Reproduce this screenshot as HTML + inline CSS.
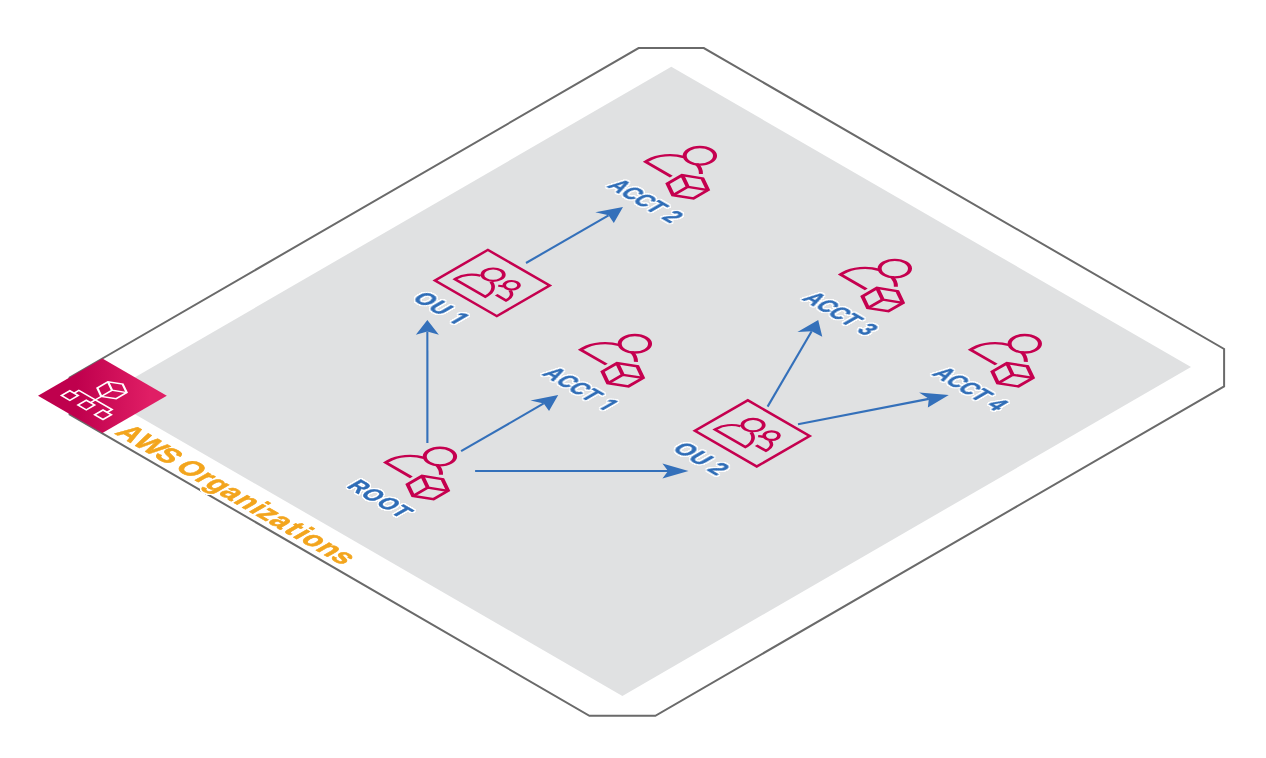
<!DOCTYPE html>
<html lang="en">
<head>
<meta charset="utf-8">
<title>AWS Organizations</title>
<style>
html,body{margin:0;padding:0;background:#fff;}
body{width:1266px;height:758px;overflow:hidden;}
svg{display:block;}
text{font-family:"Liberation Sans",sans-serif;font-weight:bold;}
</style>
</head>
<body>
<svg width="1266" height="758" viewBox="0 0 1266 758">
<defs>
<linearGradient id="tileg" gradientUnits="userSpaceOnUse" x1="38" y1="395.5" x2="167" y2="395.5"><stop offset="0" stop-color="#BF004D"/><stop offset="0.3" stop-color="#BF004D"/><stop offset="0.87" stop-color="#E01E65"/><stop offset="1" stop-color="#E01E65"/></linearGradient>
<filter id="halo" filterUnits="userSpaceOnUse" x="0" y="0" width="1266" height="758" color-interpolation-filters="sRGB"><feMorphology in="SourceAlpha" operator="dilate" radius="1" result="d"/><feGaussianBlur in="d" stdDeviation="0.6" result="b0"/><feComponentTransfer in="b0" result="b"><feFuncA type="linear" slope="3" intercept="-0.15"/></feComponentTransfer><feFlood flood-color="#ffffff"/><feComposite in2="b" operator="in" result="w"/><feMerge><feMergeNode in="w"/><feMergeNode in="SourceGraphic"/></feMerge></filter>
<g id="acct" fill="none" stroke="#C5004F" stroke-width="3.3" stroke-linejoin="miter">
<circle cx="-6.6" cy="-20.8" r="12.4"/>
<path d="M-2.3,16.45 L-31.9,16.45 L-31.9,13.7 A25.3,25.3 0 0 1 -14.42,-10.36"/>
<path d="M-0.48,-10.85 A25.3,25.3 0 0 1 12.2,-3.23"/>
<polygon points="17.4,0.3 32.3,8.75 32.3,25.65 17.4,34.1 2.5,25.65 2.5,8.75"/>
<path d="M2.5,8.75 L17.4,17.2 L32.3,8.75 M17.4,17.2 L17.4,34.1"/>
</g>
<g id="ou" fill="none" stroke="#C5004F" stroke-width="3" stroke-linejoin="miter">
<rect x="-35.7" y="-30.55" width="71.4" height="61.1" stroke-width="2.9"/>
<circle cx="-7.9" cy="-8.8" r="8.75"/>
<path d="M-13.89,-0.49 A17.5,17.5 0 0 0 -25.4,15.95 L-25.4,17.7 L9.6,17.7 L9.6,15.95 A17.5,17.5 0 0 0 -1.91,-0.49"/>
<circle cx="13.35" cy="-8.9" r="6.05"/>
<path d="M17.53,-2.87 A11.6,11.6 0 0 1 25.35,8.1 L25.35,9.6 L14.05,9.6"/>
<path d="M6.14,-0.65 A11.6,11.6 0 0 1 9.97,-2.87"/>
</g>
</defs>
<rect width="1266" height="758" fill="#ffffff"/>
<polygon points="638.6,48.1 703.8,48.1 1224.1,349 1224.1,386.4 655.35,715.75 589.4,715.75 69.6,414.3 69.6,377.5" fill="#ffffff" stroke="#6A6A6A" stroke-width="2" stroke-linejoin="miter"/>
<polygon points="671.3,66.8 1191,367.05 622.4,695.97 103,395.7" fill="#E0E1E2"/>
<polygon points="38,395.8 102.4,358.6 166.8,395.8 102.4,433" fill="url(#tileg)"/>
<g transform="matrix(0.866,0.5,-0.866,0.5,102.4,395.8)" fill="none" stroke="#ffffff" stroke-width="1.9">
<polygon points="0,-23.4 10.8,-17.25 10.8,-4.95 0,1.2 -10.8,-4.95 -10.8,-17.25"/>
<path d="M-10.8,-17.25 L0,-11.1 L10.8,-17.25 M0,-11.1 L0,1.2"/>
<path d="M0,1.2 L0,8.2 M-19,13.8 L-19,8.2 L19.3,8.2 L19.3,13.8 M0,8.2 L0,13.8"/>
<rect x="-23.8" y="13.8" width="9.6" height="9.6"/>
<rect x="-4.8" y="13.8" width="9.6" height="9.6"/>
<rect x="14.5" y="13.8" width="9.6" height="9.6"/>
</g>
<g filter="url(#halo)">
<text transform="matrix(0.8343,0.4817,-0.866,0.5,114,433.55)" font-size="28.85" fill="#F3A51D" stroke="#F3A51D" stroke-width="0.7" stroke-linejoin="round" x="-0.46 20.25 46.14 63.45 71.47 95.11 106.62 124.27 141.68 160.37 168.61 183.55 201.75 213.21 221.75 240.16 257.61">AWS Organizations</text>
</g>
<line x1="427.4" y1="442.9" x2="427.35" y2="331.6" stroke="#3470BA" stroke-width="2.1"/>
<polygon points="427.35,320 438.87,334.85 427.35,331.6 415.84,334.85" fill="#3470BA"/>
<line x1="461.1" y1="451.2" x2="543.74" y2="403.45" stroke="#3470BA" stroke-width="2.1"/>
<polygon points="558.2,395.1 549.03,411.1 543.74,403.45 530.49,400.41" fill="#3470BA"/>
<line x1="475.1" y1="470.95" x2="668.05" y2="470.95" stroke="#3470BA" stroke-width="2.1"/>
<polygon points="688.5,470.95 662.41,478.52 668.05,470.95 662.41,463.38" fill="#3470BA"/>
<line x1="526" y1="263" x2="608.54" y2="215.35" stroke="#3470BA" stroke-width="2.1"/>
<polygon points="623,207 613.82,223 608.54,215.35 595.29,212.3" fill="#3470BA"/>
<line x1="767.6" y1="406.6" x2="811.66" y2="331.29" stroke="#3470BA" stroke-width="2.1"/>
<polygon points="818.2,320.1 822.27,336.79 811.66,331.29 797.44,331.95" fill="#3470BA"/>
<line x1="798" y1="424.2" x2="928.83" y2="398.87" stroke="#3470BA" stroke-width="2.1"/>
<polygon points="948.8,395 927.85,407.41 928.83,398.87 919.12,392.39" fill="#3470BA"/>
<use href="#acct" transform="matrix(0.866,0.5,-0.866,0.5,427.62,470.23)"/>
<use href="#ou" transform="matrix(0.866,0.5,-0.866,0.5,492.35,283.01)"/>
<use href="#acct" transform="matrix(0.866,0.5,-0.866,0.5,622.57,357.45)"/>
<use href="#ou" transform="matrix(0.866,0.5,-0.866,0.5,752.29,433.39)"/>
<use href="#acct" transform="matrix(0.866,0.5,-0.866,0.5,687.56,169.48)"/>
<use href="#acct" transform="matrix(0.866,0.5,-0.866,0.5,882.51,282.26)"/>
<use href="#acct" transform="matrix(0.866,0.5,-0.866,0.5,1012.48,357.45)"/>
<g filter="url(#halo)">
<text transform="matrix(0.7885,0.4552,-0.866,0.5,345.87,486.95)" font-size="23.24" fill="#2E6CB6" stroke="#2E6CB6" stroke-width="0.5" stroke-linejoin="round" x="-0.27 16.99 36.58 55.43">ROOT</text>
<text transform="matrix(0.8151,0.4706,-0.866,0.5,410.85,298.98)" font-size="23.24" fill="#2E6CB6" stroke="#2E6CB6" stroke-width="0.5" stroke-linejoin="round" clip-path="url(#c1)" x="0.43 19.54 36.79 44.13">OU 1</text>
<text transform="matrix(0.7532,0.4349,-0.866,0.5,540.82,374.17)" font-size="23.24" fill="#2E6CB6" stroke="#2E6CB6" stroke-width="0.5" stroke-linejoin="round" clip-path="url(#c2)" x="0.49 17.58 33.99 50.95 65.62 73.88">ACCT 1</text>
<text transform="matrix(0.8296,0.479,-0.866,0.5,670.79,449.36)" font-size="23.24" fill="#2E6CB6" stroke="#2E6CB6" stroke-width="0.5" stroke-linejoin="round" x="0.27 19.06 36.09 42.57">OU 2</text>
<text transform="matrix(0.7714,0.4454,-0.866,0.5,605.81,186.2)" font-size="23.24" fill="#2E6CB6" stroke="#2E6CB6" stroke-width="0.5" stroke-linejoin="round" x="0.28 16.97 32.99 49.58 64 71.21">ACCT 2</text>
<text transform="matrix(0.7656,0.442,-0.866,0.5,800.76,298.98)" font-size="23.24" fill="#2E6CB6" stroke="#2E6CB6" stroke-width="0.5" stroke-linejoin="round" x="0.35 17.16 33.31 50.01 64.51 71.8">ACCT 3</text>
<text transform="matrix(0.7679,0.4434,-0.866,0.5,930.73,374.17)" font-size="23.24" fill="#2E6CB6" stroke="#2E6CB6" stroke-width="0.5" stroke-linejoin="round" x="0.32 17.09 33.18 49.84 64.31 71.56">ACCT 4</text>
</g>
<defs>
<clipPath id="c1"><path clip-rule="evenodd" d="M-20,-40H140V20H-20Z M42.13,-2.97H49.25V3H42.13Z M53.04,-2.97H58.41V3H53.04Z"/></clipPath>
<clipPath id="c2"><path clip-rule="evenodd" d="M-20,-40H140V20H-20Z M71.88,-2.97H79V3H71.88Z M82.79,-2.97H88.15V3H82.79Z"/></clipPath>
</defs>
</svg>
</body>
</html>
